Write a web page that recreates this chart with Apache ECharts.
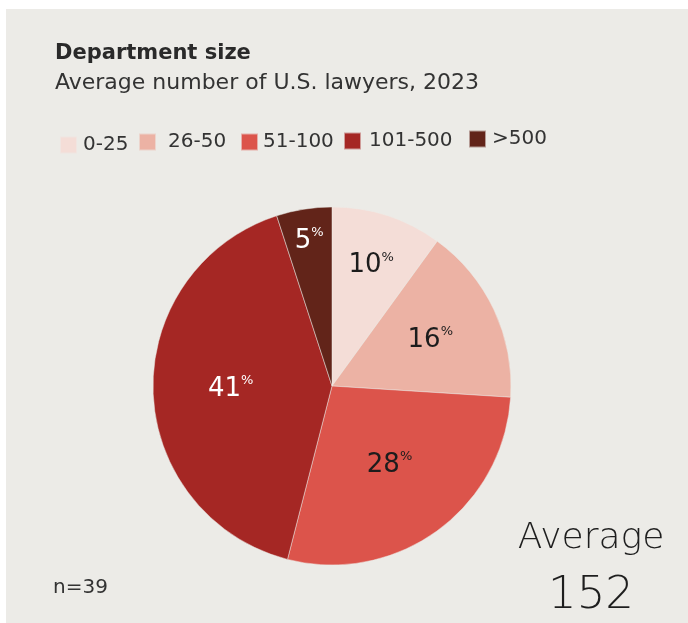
<!DOCTYPE html>
<html>
<head>
<meta charset="utf-8">
<title>Department size</title>
<script src="https://cdn.jsdelivr.net/npm/echarts@6/dist/echarts.min.js"></script>
<style>
html, body { margin: 0; padding: 0; background: #fff; }
#panel { position: absolute; left: 6px; top: 9px; right: 0; bottom: 0; background: #ecebe7; }
#chart { position: absolute; left: 0; top: 0; width: 688px; height: 623px; }
</style>
</head>
<body>
<div id="panel"></div>
<div id="chart"></div>
<script>
// data
var sizeGroups = ['0-25', '26-50', '51-100', '101-500', '>500'];
var shares = [10, 16, 28, 41, 5];
var averageSize = 152;
var sampleSize = 39;

// look
var sliceColors = ['#f4ddd7', '#ecb2a4', '#dc544b', '#a52724', '#622419'];
var labelColors = ['#1c1c1c', '#1c1c1c', '#1c1c1c', '#ffffff', '#ffffff'];
var labelDepth = [0.69, 0.59, 0.53, 0.55, 0.8];   // label distance from centre, part of radius
// legend squares are a bit uneven in the original: [left, top, extra gap before text]
var legendPos = [[59, 135, 1], [138, 132, 7], [240, 132, 0], [343, 131, 3], [468, 129, 1]];

var font = '"DejaVu Sans", sans-serif';
var ink = '#2a2a2a';
var cx = 332, cy = 386, R = 179;
var total = shares.reduce(function (a, b) { return a + b; }, 0);

function midAngle(i) {
    var before = 0;
    for (var k = 0; k < i; k++) before += shares[k];
    return (before + shares[i] / 2) / total * Math.PI * 2;
}

var option = {
    animation: false,
    title: [
        { text: 'Department size', left: 55, top: 43, padding: 0,
          textStyle: { fontFamily: font, fontSize: 21, lineHeight: 21, fontWeight: 'bold', color: ink } },
        { text: 'Average number of U.S. lawyers, 2023', left: 55, top: 72, padding: 0,
          textStyle: { fontFamily: font, fontSize: 22, lineHeight: 22, fontWeight: 'normal', color: '#333' } },
        { text: 'Average', left: 591, textAlign: 'center', top: 521, padding: 0,
          textStyle: { fontFamily: font, fontSize: 36, lineHeight: 36, fontWeight: 300, color: '#1e1e1e' } },
        { text: String(averageSize), left: 591, textAlign: 'center', top: 574, padding: 0,
          textStyle: { fontFamily: font, fontSize: 45, lineHeight: 45, fontWeight: 300, color: '#1e1e1e' } },
        { text: 'n=' + sampleSize, left: 53, top: 578, padding: 0,
          textStyle: { fontFamily: font, fontSize: 20, lineHeight: 20, fontWeight: 'normal', color: '#333' } }
    ],
    legend: legendPos.map(function (p, i) {
        return {
            data: [sizeGroups[i]],
            left: p[0], top: p[1], padding: 0,
            icon: 'rect', itemWidth: 17, itemHeight: 17,
            selectedMode: false,
            textStyle: { fontFamily: font, fontSize: 20, lineHeight: 17, fontWeight: 'normal', color: '#333',
                         padding: [0, 0, 0, p[2]] }
        };
    }),
    series: [{
        type: 'pie',
        center: [cx, cy],
        radius: R,
        startAngle: 90,
        clockwise: true,
        emphasis: { disabled: true },
        itemStyle: { borderColor: 'rgba(236,235,231,0.6)', borderWidth: 0.8 },
        label: {
            show: true,
            position: 'inside',
            formatter: function (p) { return '{v|' + p.value + '}{p|%}'; },
            rich: {
                v: { fontFamily: font, fontSize: 26, lineHeight: 30, fontWeight: 'normal' },
                p: { fontFamily: font, fontSize: 13, lineHeight: 19, verticalAlign: 'top', fontWeight: 'normal' }
            }
        },
        labelLayout: function (params) {
            var i = params.dataIndex;
            var a = midAngle(i);
            var shift = (labelDepth[i] - 0.5) * R;
            return { dx: shift * Math.sin(a), dy: -shift * Math.cos(a) };
        },
        data: sizeGroups.map(function (name, i) {
            return {
                name: name,
                value: shares[i],
                itemStyle: { color: sliceColors[i] },
                label: { color: labelColors[i] }
            };
        })
    }]
};

var myChart = echarts.init(document.getElementById('chart'), null, { renderer: 'canvas' });
myChart.setOption(option);
</script>
</body>
</html>
